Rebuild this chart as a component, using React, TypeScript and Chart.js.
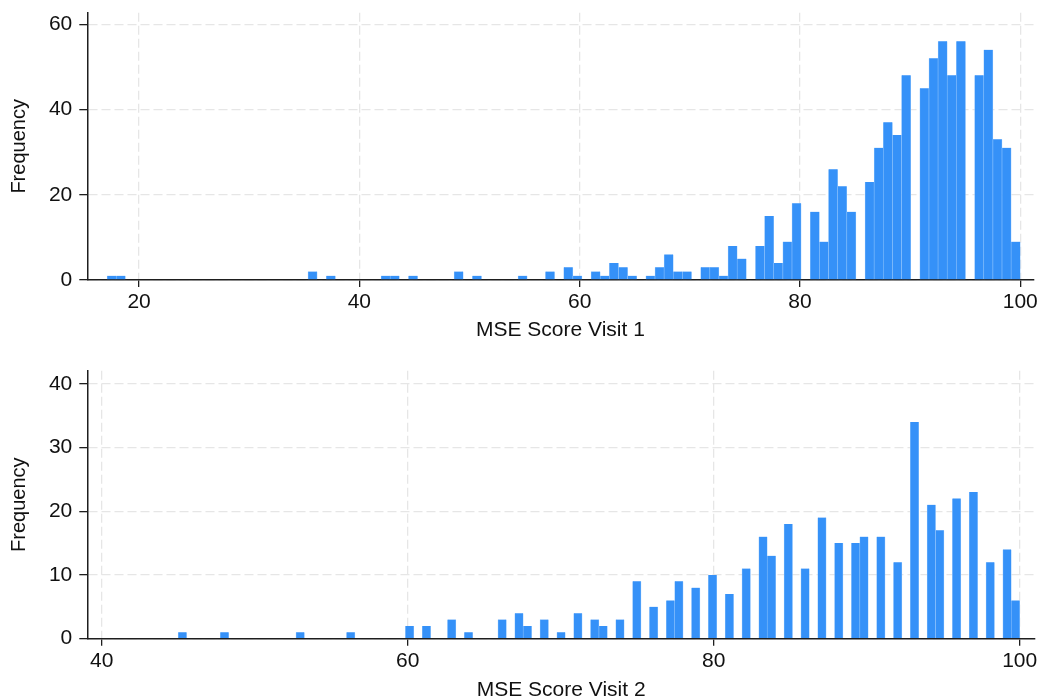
import { useEffect, useRef } from 'react';
import { Chart, registerables } from 'chart.js';

Chart.register(...registerables);

// ---------- data ----------
const yAxisTitle = 'Frequency';

const visit1Title = 'MSE Score Visit 1';
const visit1BinStart = 17.1;
const visit1BinWidth = 0.829;
const visit1Counts = [
  1, 1, 0, 0, 0, 0, 0, 0, 0, 0,
  0, 0, 0, 0, 0, 0, 0, 0, 0, 0,
  0, 0, 2, 0, 1, 0, 0, 0, 0, 0,
  1, 1, 0, 1, 0, 0, 0, 0, 2, 0,
  1, 0, 0, 0, 0, 1, 0, 0, 2, 0,
  3, 1, 0, 2, 1, 4, 3, 1, 0, 1,
  3, 6, 2, 2, 0, 3, 3, 1, 8, 5,
  0, 8, 15, 4, 9, 18, 0, 16, 9, 26,
  22, 16, 0, 23, 31, 37, 34, 48, 0, 45,
  52, 56, 48, 56, 0, 48, 54, 33, 31, 9,
];
const visit1XTicks = [20, 40, 60, 80, 100];
const visit1YTicks = [0, 20, 40, 60];
const visit1XMin = 15.3;
const visit1XMax = 101.2;
const visit1YMax = 62.7;

const visit2Title = 'MSE Score Visit 2';
const visit2BinStart = 45;
const visit2BinWidth = 0.55;
const visit2Counts = [
  1, 0, 0, 0, 0, 1, 0, 0, 0, 0,
  0, 0, 0, 0, 1, 0, 0, 0, 0, 0,
  1, 0, 0, 0, 0, 0, 0, 2, 0, 2,
  0, 0, 3, 0, 1, 0, 0, 0, 3, 0,
  4, 2, 0, 3, 0, 1, 0, 4, 0, 3,
  2, 0, 3, 0, 9, 0, 5, 0, 6, 9,
  0, 8, 0, 10, 0, 7, 0, 11, 0, 16,
  13, 0, 18, 0, 11, 0, 19, 0, 15, 0,
  15, 16, 0, 16, 0, 12, 0, 34, 0, 21,
  17, 0, 22, 0, 23, 0, 12, 0, 14, 6,
];
const visit2XTicks = [40, 60, 80, 100];
const visit2YTicks = [0, 10, 20, 30, 40];
const visit2XMin = 39.06;
const visit2XMax = 101.0;
const visit2YMax = 42.04;

// ---------- styles ----------
const FONT = '"Liberation Sans", Arial, Helvetica, sans-serif';
const BAR_FILL = '#3591f8';
const BAR_EDGE = '#8cc2fc';
const GRID = '#e6e6e6';
const AXIS = '#1e1e1e';

type HistProps = {
  counts: number[];
  binStart: number;
  binWidth: number;
  xTicks: number[];
  yTicks: number[];
  xMin: number;
  xMax: number;
  yMax: number;
  title: string;
  top: number;
  width: number;
  height: number;
  padTop: number;
  padRight: number;
  xAxisHeight: number;
};

function Histogram(p: HistProps) {
  const ref = useRef<HTMLCanvasElement | null>(null);
  useEffect(() => {
    if (!ref.current) return;
    // empty bins are kept as positions (so bar width = bin width) but drawn as nothing
    const data = p.counts.map((c, i) => ({
      x: p.binStart + (i + 0.5) * p.binWidth,
      y: c > 0 ? c : null,
    }));
    const chart = new Chart(ref.current, {
      type: 'bar',
      data: {
        datasets: [
          {
            data: data as any,
            backgroundColor: BAR_FILL,
            borderColor: BAR_EDGE,
            borderWidth: { left: 0.6, right: 0.6, top: 0, bottom: 0 },
            borderSkipped: false,
            barPercentage: 1,
            categoryPercentage: 1,
          },
        ],
      },
      options: {
        responsive: false,
        animation: false,
        events: [],
        layout: { padding: { top: p.padTop, right: p.padRight, bottom: 0, left: 0 } },
        plugins: { legend: { display: false }, tooltip: { enabled: false } },
        scales: {
          x: {
            type: 'linear',
            min: p.xMin,
            max: p.xMax,
            offset: false,
            afterBuildTicks: (s: any) => {
              s.ticks = p.xTicks.map((v) => ({ value: v }));
            },
            afterFit: (s: any) => {
              s.height = p.xAxisHeight;
            },
            grid: {
              offset: false,
              color: GRID,
              lineWidth: 1.3,
              drawTicks: true,
              tickLength: 7,
              tickColor: AXIS,
              tickWidth: 1.3,
            },
            border: { display: true, color: AXIS, width: 1.5, dash: [9, 4] },
            ticks: {
              color: '#111',
              font: { family: FONT, size: 21 },
              padding: 3,
              maxRotation: 0,
              autoSkip: false,
            },
            title: {
              display: true,
              text: p.title,
              color: '#111',
              font: { family: FONT, size: 21 },
              padding: { top: 0, bottom: 6.1 },
            },
          },
          y: {
            type: 'linear',
            min: 0,
            max: p.yMax,
            afterBuildTicks: (s: any) => {
              s.ticks = p.yTicks.map((v) => ({ value: v }));
            },
            afterFit: (s: any) => {
              s.width = 87.3;
            },
            grid: {
              color: GRID,
              lineWidth: 1.3,
              drawTicks: true,
              tickLength: 8,
              tickColor: AXIS,
              tickWidth: 1.3,
            },
            border: { display: true, color: AXIS, width: 1.5, dash: [9, 4] },
            ticks: {
              color: '#111',
              font: { family: FONT, size: 21 },
              padding: 7,
            },
            title: {
              display: true,
              text: yAxisTitle,
              color: '#111',
              font: { family: FONT, size: 20 },
              padding: { top: 7.7, bottom: 0 },
            },
          },
        },
      },
    });
    return () => chart.destroy();
  }, []);
  return (
    <canvas
      ref={ref}
      width={p.width}
      height={p.height}
      style={{ position: 'absolute', left: 0, top: p.top, display: 'block' }}
    />
  );
}

export default function App() {
  return (
    <div
      style={{
        position: 'absolute',
        left: 0,
        top: 0,
        width: 1038,
        height: 699,
        overflow: 'hidden',
        background: '#ffffff',
      }}
    >
      <Histogram
        counts={visit1Counts}
        binStart={visit1BinStart}
        binWidth={visit1BinWidth}
        xTicks={visit1XTicks}
        yTicks={visit1YTicks}
        xMin={visit1XMin}
        xMax={visit1XMax}
        yMax={visit1YMax}
        title={visit1Title}
        top={-30}
        width={1070}
        height={379}
        padTop={42.7}
        padRight={36.5}
        xAxisHeight={69}
      />
      <Histogram
        counts={visit2Counts}
        binStart={visit2BinStart}
        binWidth={visit2BinWidth}
        xTicks={visit2XTicks}
        yTicks={visit2YTicks}
        xMin={visit2XMin}
        xMax={visit2XMax}
        yMax={visit2YMax}
        title={visit2Title}
        top={319}
        width={1070}
        height={390}
        padTop={51.7}
        padRight={35}
        xAxisHeight={70.3}
      />
    </div>
  );
}
